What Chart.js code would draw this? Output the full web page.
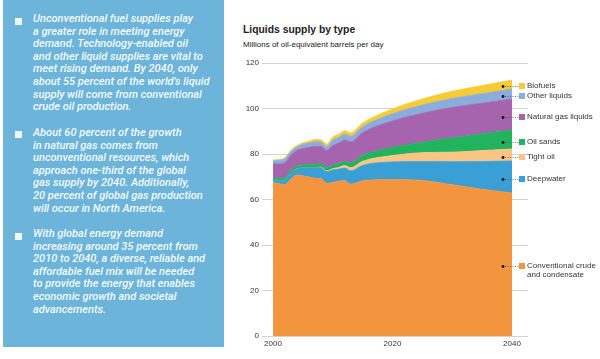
<!DOCTYPE html>
<html><head><meta charset="utf-8">
<script src="https://cdn.jsdelivr.net/npm/chart.js@4"></script>
<style>
html,body{margin:0;padding:0;background:#fff;width:600px;height:359px;overflow:hidden;position:relative;}
#panel{position:absolute;left:3px;top:0;width:221px;height:347px;background:#6cb4da;}
.p{position:absolute;left:33px;font-family:Roboto,"Liberation Sans",Arial,sans-serif;font-style:italic;font-weight:500;font-size:11px;line-height:12.55px;color:#f5fafd;white-space:nowrap;}
.sq{position:absolute;left:15px;width:7px;height:7px;background:#eef6fb;}
#title{position:absolute;left:243px;top:23px;font-family:"Liberation Sans Narrow","Liberation Sans",Arial,sans-serif;font-weight:bold;font-size:11.5px;line-height:12px;color:#222;white-space:nowrap;transform:scaleX(0.9);transform-origin:0 0;}
#sub{position:absolute;left:243px;top:40px;font-family:"Liberation Sans",Arial,sans-serif;font-size:8px;line-height:10px;color:#222;white-space:nowrap;}
canvas{position:absolute;left:0;top:0;}
</style>
</head><body>
<div id="panel"></div>
<div class="sq" style="top:17.5px"></div>
<div class="p" style="top:13.3px">Unconventional fuel supplies play<br>a greater role in meeting energy<br>demand. Technology-enabled oil<br>and other liquid supplies are vital to<br>meet rising demand. By 2040, only<br>about 55 percent of the world’s liquid<br>supply will come from conventional<br>crude oil production.</div>
<div class="sq" style="top:131px"></div>
<div class="p" style="top:127.3px">About 60 percent of the growth<br>in natural gas comes from<br>unconventional resources, which<br>approach one-third of the global<br>gas supply by 2040. Additionally,<br>20 percent of global gas production<br>will occur in North America.</div>
<div class="sq" style="top:232.5px"></div>
<div class="p" style="top:228.3px">With global energy demand<br>increasing around 35 percent from<br>2010 to 2040, a diverse, reliable and<br>affordable fuel mix will be needed<br>to provide the energy that enables<br>economic growth and societal<br>advancements.</div>
<div id="title">Liquids supply by type</div>
<div id="sub">Millions of oil-equivalent barrels per day</div>
<canvas id="c" width="600" height="359"></canvas>
<script>
const years = [2000,2001,2002,2003,2004,2005,2006,2007,2008,2009,2010,2011,2012,2013,2015,2020,2025,2030,2035,2040];
const conventional = [67.6,66.9,66.5,69.0,70.8,70.4,69.9,69.4,69.2,67.1,67.5,68.0,68.3,66.7,68.2,68.8,68.4,66.5,64.5,62.9];
const deepwater    = [1.2,1.4,2.0,2.6,2.6,3.4,4.0,4.6,4.8,5.2,5.5,5.3,5.5,5.9,6.8,7.7,8.3,10.1,12.2,14.0];
const tightOil     = [0,0,0,0,0,0,0,0,0.2,0.3,0.5,0.8,1.1,1.4,1.8,2.8,3.9,4.2,4.8,5.3];
const oilSands     = [0.9,1.0,1.1,1.2,1.3,1.4,1.5,1.5,1.5,1.5,1.6,1.7,1.8,2.0,2.6,3.6,4.6,6.3,7.4,8.3];
const naturalGasLiquids = [5.9,6.3,6.6,6.6,6.9,7.2,7.5,7.9,7.7,7.5,8.6,9.0,9.4,9.3,10.0,11.6,12.7,13.4,13.4,13.7];
const otherLiquids = [1.4,1.6,1.7,1.7,1.5,1.8,1.9,2.0,1.8,1.7,2.4,2.5,2.6,2.5,2.6,3.2,3.6,3.9,4.2,4.4];
const biofuels     = [0.4,0.4,0.5,0.5,0.6,0.7,0.8,1.0,1.1,1.1,1.3,1.4,1.5,1.5,1.6,2.1,2.7,3.2,3.6,3.9];
const xTicks = [2000,2020,2040];
const yTicks = [0,20,40,60,80,100,120];

const seriesNames = [
  ['Conventional crude','and condensate'],['Deepwater'],['Tight oil'],['Oil sands'],
  ['Natural gas liquids'],['Other liquids'],['Biofuels']
];
const seriesValues = [conventional,deepwater,tightOil,oilSands,naturalGasLiquids,otherLiquids,biofuels];
const colors = ['#f3943f','#3a9fd5','#f9c585','#22b35e','#a664ae','#8badde','#f5cb36'];

const datasets = seriesValues.map((vals,i)=>({
  label: seriesNames[i].join(' '),
  data: vals.map((v,k)=>({x:years[k], y:v})),
  backgroundColor: colors[i],
  borderColor: colors[i],
  borderWidth: 0.8,
  pointRadius: 0,
  fill: i===0 ? 'origin' : '-1',
  cubicInterpolationMode: 'monotone'
}));

const legendPlugin = {
  id:'sideLegend',
  afterDatasetsDraw(chart){
    const ctx = chart.ctx, xs = chart.scales.x, ys = chart.scales.y;
    const last = years.length-1;
    let prev = ys.getPixelForValue(0);
    const dotX = xs.getPixelForValue(2038.5);
    chart.data.datasets.forEach((ds,i)=>{
      const top = chart.getDatasetMeta(i).data[last].y;
      const py = Math.round((top+prev)/2 + 2) + 0.5;
      prev = top;
      ctx.save();
      ctx.fillStyle = '#111';
      ctx.beginPath(); ctx.arc(dotX, py, 1.4, 0, Math.PI*2); ctx.fill();
      ctx.strokeStyle = '#555'; ctx.lineWidth = 0.8; ctx.setLineDash([1,1.5]);
      ctx.beginPath(); ctx.moveTo(dotX+2, py); ctx.lineTo(519, py); ctx.stroke();
      ctx.setLineDash([]);
      ctx.fillStyle = colors[i];
      ctx.fillRect(519, py-3.5, 6, 6);
      ctx.fillStyle = '#333';
      ctx.font = '8px "Liberation Sans", Arial, sans-serif';
      ctx.textBaseline = 'middle';
      seriesNames[i].forEach((t,j)=> ctx.fillText(t, 527, py - 0.5 + j*8.5));
      ctx.restore();
    });
  }
};

new Chart(document.getElementById('c'), {
  type:'line',
  data:{datasets},
  plugins:[legendPlugin],
  options:{
    responsive:false, animation:false, devicePixelRatio:1,
    layout:{padding:{left:232,right:72,top:63,bottom:7}},
    plugins:{legend:{display:false}, tooltip:{enabled:false}},
    elements:{line:{tension:0}},
    scales:{
      x:{type:'linear', min:1998.16, max:2042.68,
        grid:{display:false, drawTicks:false}, border:{display:false},
        ticks:{padding:3, color:'#333', font:{family:'"Liberation Sans", Arial', size:8}, maxRotation:0, autoSkip:false, callback:v=>String(v)},
        afterBuildTicks:s=>{ s.ticks = xTicks.map(v=>({value:v})); },
        afterFit:s=>{ s.height = 16; }
      },
      y:{stacked:true, min:0, max:120,
        grid:{color:'#d3d3d3', drawTicks:false, lineWidth:1}, border:{display:false},
        ticks:{padding:3, color:'#333', font:{family:'"Liberation Sans", Arial', size:8}},
        afterBuildTicks:s=>{ s.ticks = yTicks.map(v=>({value:v})); },
        afterFit:s=>{ s.width = 30; }
      }
    }
  }
});
</script>
</body></html>
